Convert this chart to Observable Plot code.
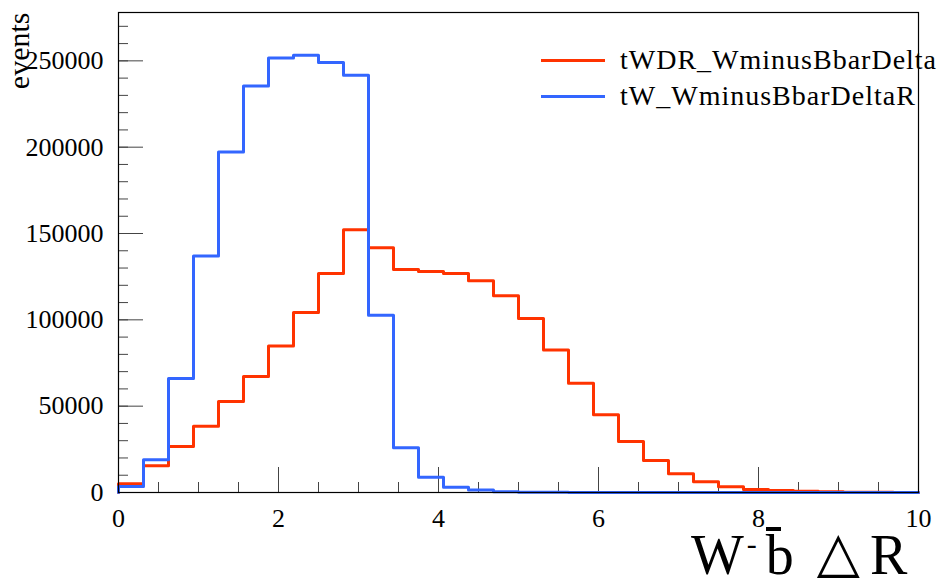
<!DOCTYPE html>
<html>
<head>
<meta charset="utf-8">
<script src="https://cdn.jsdelivr.net/npm/d3@7"></script>
<script src="https://cdn.jsdelivr.net/npm/@observablehq/plot@0.6"></script>
<style>
  body { margin: 0; background: #fff; }
  #chart { position: relative; width: 947px; height: 587px; font-family: "Liberation Serif", "DejaVu Serif", serif; color: #000; overflow: hidden; }
  #chart svg { display: block; }
  .legend { position: absolute; left: 541px; top: 42px; }
  .legend .row { display: flex; align-items: center; height: 36px; white-space: nowrap; }
  .legend .swatch { width: 64px; height: 3px; margin-right: 15px; }
  .legend .label { font-size: 28px; line-height: 1; letter-spacing: 1px; }
  .xtitle { position: absolute; left: 691px; top: 530px; height: 50px; font-size: 56px; line-height: 0.9; white-space: nowrap; }
  .xtitle .sup { font-size: 30px; position: relative; top: -20px; margin: 0 9px 0 3px; }
  .xtitle .bbar { position: relative; }
  .xtitle .bbar::before { content: ""; position: absolute; left: 0px; top: 3px; width: 15px; height: 4px; background: #000; }
  .xtitle .tri { display: inline-block; position: relative; top: -3px; font-family: "DejaVu Sans", sans-serif; font-size: 56px; line-height: 0.8; margin: 0 10px 0 23px; }
</style>
</head>
<body>
<div id="chart"></div>
<script>
// Histogram binning: 32 bins over [0, 10]
const xMin = 0, xMax = 10, nBins = 32;
const binEdges = d3.range(nBins).map(i => xMin + (i * (xMax - xMin)) / nBins);

// Bin contents (events per bin)
const tWDR_WminusBbarDelta = [
  5000, 15500, 26700, 38400, 52700, 67200, 84800, 104200,
  126800, 152200, 141800, 129200, 128000, 126900, 122600, 114000,
  100800, 82500, 63300, 45000, 29500, 18500, 10900, 6200,
  3300, 1700, 1100, 700, 400, 200, 100, 0
];
const tW_WminusBbarDeltaR = [
  3500, 19000, 66000, 137000, 197200, 235400, 251600, 253200,
  249000, 241600, 102700, 25900, 8900, 3100, 1400, 500,
  200, 100, 50, 0, 0, 0, 0, 0,
  0, 0, 0, 0, 0, 0, 0, 0
];

const seriesNames = ["tWDR_WminusBbarDelta", "tW_WminusBbarDeltaR"];
const seriesColors = ["#ff3300", "#3366ff"];

// Axis ticks
const yMajor = [0, 50000, 100000, 150000, 200000, 250000];
const yMinor = d3.range(0, 280000, 10000);
const xMajor = [0, 2, 4, 6, 8, 10];
const xMinor = d3.range(0, 10.001, 0.5);
const yTop = 278000;

// Outline of a histogram: rises from zero at the first edge, falls back at the last
function outline(values) {
  const pts = [{x: xMin, y: 0}];
  values.forEach((v, i) => pts.push({x: binEdges[i], y: v}));
  pts.push({x: xMax, y: values[values.length - 1]});
  pts.push({x: xMax, y: 0});
  return pts;
}

const plot = Plot.plot({
  width: 947,
  height: 587,
  marginLeft: 118,
  marginRight: 29,
  marginTop: 12,
  marginBottom: 95,
  style: {fontFamily: "'Liberation Serif', 'DejaVu Serif', serif", fontSize: "26px", background: "#fff", color: "#000"},
  x: {domain: [xMin, xMax]},
  y: {domain: [0, yTop]},
  marks: [
    // inward minor and major ticks
    Plot.axisY(yMinor, {tickSize: -10, tickFormat: () => "", label: null, stroke: "#444"}),
    Plot.axisY(yMajor, {tickSize: -25, tickFormat: () => "", label: null, stroke: "#444"}),
    Plot.axisY(yMajor, {tickSize: 0, tickPadding: 15, tickFormat: d => String(d), label: null}),
    Plot.axisX(xMinor, {tickSize: -10, tickFormat: () => "", label: null, stroke: "#444"}),
    Plot.axisX(xMajor, {tickSize: -25, tickFormat: () => "", label: null, stroke: "#444"}),
    Plot.axisX(xMajor, {tickSize: 0, tickPadding: 16, tickFormat: d => String(d), label: null}),
    Plot.line(outline(tWDR_WminusBbarDelta), {x: "x", y: "y", curve: "step-after", stroke: seriesColors[0], strokeWidth: 3}),
    Plot.line(outline(tW_WminusBbarDeltaR), {x: "x", y: "y", curve: "step-after", stroke: seriesColors[1], strokeWidth: 3}),
    Plot.frame({stroke: "#000", strokeWidth: 1.2}),
    Plot.text(["events"], {frameAnchor: "top-left", rotate: -90, textAnchor: "end", dx: -111, dy: 0, fontSize: 30})
  ]
});

const chart = document.getElementById("chart");
chart.appendChild(plot);

// Legend
const legend = document.createElement("div");
legend.className = "legend";
seriesNames.forEach((name, i) => {
  const row = document.createElement("div");
  row.className = "row";
  const sw = document.createElement("div");
  sw.className = "swatch";
  sw.style.background = seriesColors[i];
  const lab = document.createElement("span");
  lab.className = "label";
  lab.textContent = name;
  row.appendChild(sw);
  row.appendChild(lab);
  legend.appendChild(row);
});
chart.appendChild(legend);

// x-axis title
const title = document.createElement("div");
title.className = "xtitle";
title.innerHTML = 'W<span class="sup">-</span><span class="bbar">b</span><span class="tri">△</span>R';
chart.appendChild(title);
</script>
</body>
</html>
